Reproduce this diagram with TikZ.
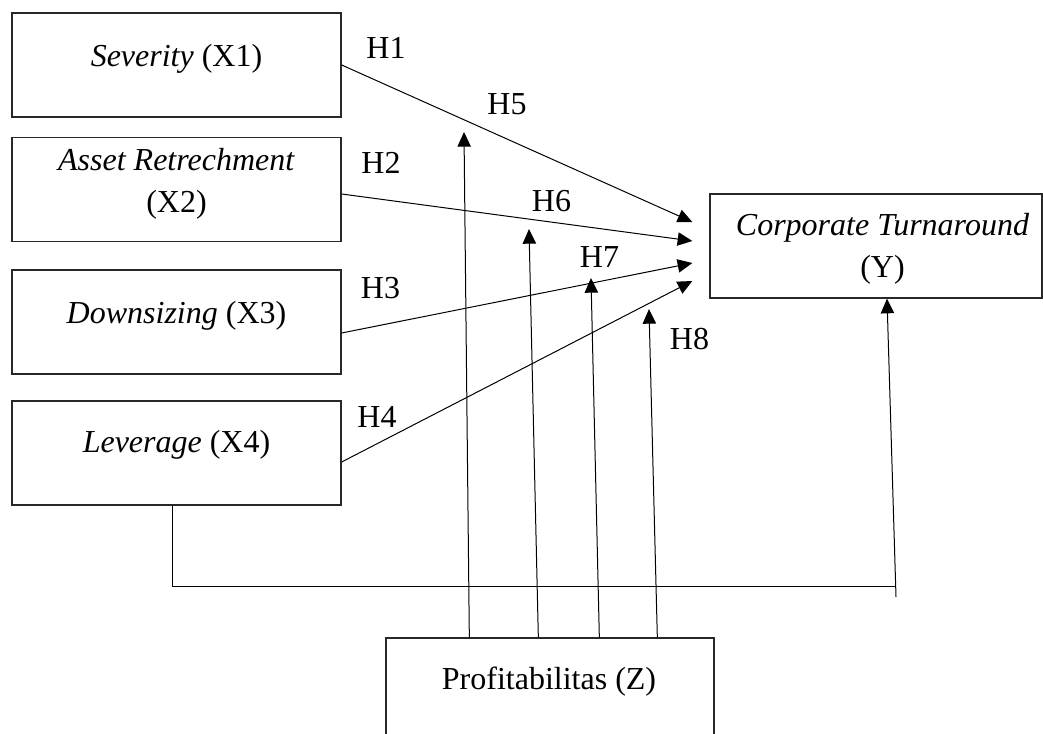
\documentclass[tikz,border=0pt]{standalone}
\usepackage{fontspec}
\setmainfont{Liberation Serif}
\usetikzlibrary{arrows.meta,calc}

\tikzset{every picture/.style={line width=0.75pt}}
\tikzset{
  varbox/.style={draw={rgb, 255:red, 40; green, 40; blue, 40}, line width=1pt, minimum width=246.75pt, minimum height=78pt, inner sep=0pt},
  vartxt/.style={font=\fontsize{24}{31.5}\selectfont, align=center, inner sep=0pt},
  hlab/.style={font=\fontsize{24}{31.5}\selectfont, inner sep=0pt},
  arr/.style={-{Triangle[length=11pt,width=10pt]}}
}

\begin{document}
\begin{tikzpicture}[x=0.75pt,y=0.75pt,yscale=-1,xscale=1]
\useasboundingbox (0,0) rectangle (1043,734);
\clip (0,0) rectangle (1043,734);

%Shape: Rectangle X1
\node [varbox] (x1) at (176.5,65) {};
%Shape: Rectangle X2
\node [varbox] (x2) at (176.5,189.5) {};
%Shape: Rectangle X3
\node [varbox] (x3) at (176.5,322) {};
%Shape: Rectangle X4
\node [varbox] (x4) at (176.5,453) {};
%Shape: Rectangle Y
\node [varbox, minimum width=249pt] (y) at (876,246) {};
%Shape: Rectangle Z
\node [varbox, minimum width=246pt] (z) at (550,690) {};

% Text Node
\node [vartxt] (tx1) at (176.5,58.5) {\textit{Severity} (X1)};
% Text Node
\node [vartxt] (tx2) at (176.5,184) {\textit{Asset Retrechment}\\(X2)};
% Text Node
\node [vartxt] (tx3) at (176.5,316) {\textit{Downsizing} (X3)};
% Text Node
\node [vartxt] (tx4) at (176.5,444.5) {\textit{Leverage} (X4)};
% Text Node
\node [vartxt] (ty) at (882.5,248.5) {\textit{Corporate Turnaround}\\(Y)};
% Text Node
\node [vartxt] (tz) at (549,681.5) {Profitabilitas (Z)};

%Free ends of the moderating arrows
\coordinate (h5) at (464,132);
\coordinate (h6) at (529,229);
\coordinate (h7) at (591,278);
\coordinate (h8) at (649,309);
\coordinate (lc) at (896,586);
\coordinate (lf) at (896,597);

%Straight Lines X -> Y
\draw [arr] (x1.east) -- ($(y.west)+(-17,-24)$);
\draw [arr] ($(x2.east)+(0,4.5)$) -- ($(y.west)+(-17,-5)$);
\draw [arr] ($(x3.east)+(0,11)$) -- ($(y.west)+(-17,17)$);
\draw [arr] ($(x4.east)+(0,9)$) -- ($(y.west)+(-17,35)$);

%Straight Lines Z -> paths
\draw [arr] ($(z.north west)+(84,0)$) -- (h5);
\draw [arr] ($(z.north west)+(153,0)$) -- (h6);
\draw [arr] ($(z.north west)+(214,0)$) -- (h7);
\draw [arr] ($(z.north west)+(272,0)$) -- (h8);

%Straight Lines X4 -> Y
\draw ($(x4.south)+(-4.5,0)$) |- (lc);
\draw [arr] (lf) -- ($(y.south)+(11,0)$);

% Text Node
\node [hlab] (lh1) at (386,47.5) {H1};
% Text Node
\node [hlab] (lh2) at (381,163) {H2};
% Text Node
\node [hlab] (lh3) at (380.5,288) {H3};
% Text Node
\node [hlab] (lh4) at (377,416.5) {H4};
% Text Node
\node [hlab] (lh5) at (507,104) {H5};
% Text Node
\node [hlab] (lh6) at (551.5,201.5) {H6};
% Text Node
\node [hlab] (lh7) at (599.5,257.5) {H7};
% Text Node
\node [hlab] (lh8) at (689.5,339) {H8};

\end{tikzpicture}
\end{document}
